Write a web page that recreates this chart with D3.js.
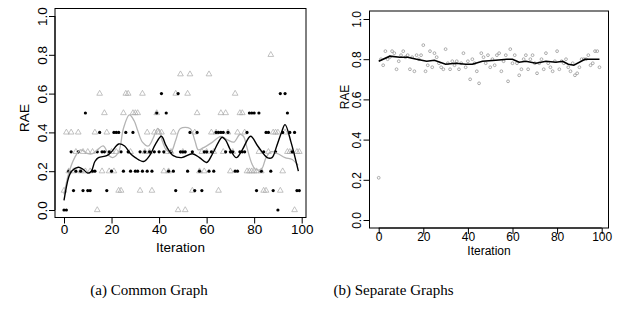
<!DOCTYPE html>
<html><head><meta charset="utf-8">
<script src="https://cdn.jsdelivr.net/npm/d3@7"></script>
<style>body{margin:0;background:#fff}svg{display:block}</style>
</head><body>
<svg id="c" width="623" height="313"></svg>
<script>
// ---------- DATA ----------
const iterations = d3.range(100);
const yTicks = [0, 0.2, 0.4, 0.6, 0.8, 1.0];
const xTicks = [0, 20, 40, 60, 80, 100];
const yTickLabels = ["0.0","0.2","0.4","0.6","0.8","1.0"];
const captions = ["(a) Common Graph", "(b) Separate Graphs"];

// (a) common graph: black dots series
const commonBlack = [0.0,0.0,0.2,0.3,0.1,0.2,0.3,0.2,0.1,0.5,0.1,0.1,0.2,0.2,0.3,0.4,0.3,0.3,0.1,0.3,
  0.2,0.4,0.4,0.4,0.3,0.2,0.4,0.3,0.2,0.4,0.2,0.2,0.3,0.2,0.3,0.2,0.3,0.2,0.3,0.5,
  0.3,0.6,0.3,0.5,0.2,0.3,0.2,0.1,0.6,0.3,0.3,0.3,0.2,0.4,0.3,0.1,0.4,0.2,0.1,0.3,
  0.3,0.2,0.3,0.2,0.4,0.4,0.4,0.4,0.3,0.4,0.3,0.3,0.2,0.2,0.3,0.3,0.3,0.4,0.5,0.5,
  0.5,0.1,0.5,0.2,0.3,0.4,0.4,0.2,0.1,0.3,0.0,0.6,0.4,0.6,0.5,0.4,0.3,0.4,0.1,0.1];
// (a) common graph: grey triangles series
const commonGrey = [0.1,0.4,0.2,0.4,0.2,0.3,0.4,0.2,0.3,0.2,0.3,0.2,0.3,0.4,0.0,0.6,0.2,0.5,0.4,0.2,
  0.3,0.2,0.3,0.1,0.1,0.5,0.6,0.6,0.3,0.5,0.5,0.5,0.1,0.6,0.3,0.4,0.3,0.1,0.4,0.5,
  0.4,0.4,0.2,0.3,0.2,0.3,0.4,0.6,0.0,0.7,0.3,0.0,0.6,0.7,0.1,0.4,0.5,0.2,0.3,0.2,
  0.3,0.7,0.4,0.3,0.4,0.1,0.5,0.3,0.5,0.4,0.2,0.3,0.6,0.4,0.5,0.5,0.4,0.2,0.2,0.2,
  0.2,0.2,0.3,0.2,0.1,0.1,0.3,0.8,0.4,0.4,0.4,0.1,0.2,0.4,0.3,0.3,0.3,0.0,0.3,0.3];
// smoothed curves (iteration, RAE)
const blackSmoothX = [0,2,3.2,6,8,10,11.5,13,14.5,18,20,23,25.5,28,30,33.5,36,38.5,41,43,46,49.5,54,57,60,62.5,65,66.5,68,70,72.5,75,78.5,81.5,85.5,87.5,89.5,91.5,93,95.5,98.6];
const blackSmoothY = [0.05,0.17,0.2,0.22,0.21,0.19,0.2,0.25,0.27,0.28,0.3,0.34,0.33,0.29,0.27,0.25,0.28,0.34,0.38,0.33,0.28,0.27,0.29,0.27,0.245,0.29,0.35,0.375,0.36,0.31,0.27,0.31,0.38,0.33,0.27,0.27,0.33,0.4,0.44,0.35,0.2];
const greySmoothX = [0,2,4.5,7,10,12,14,16.5,19,20.5,23,25,27.5,29.5,31,33,35.5,37.5,39.5,41.5,43,45,47,49,53,55,56.5,58.5,62.5,66,69,71.5,74,75.5,77,79,80.5,83,85,87,90,93,96,98.5];
const greySmoothY = [0.08,0.19,0.27,0.31,0.29,0.29,0.31,0.33,0.28,0.27,0.3,0.42,0.49,0.46,0.41,0.35,0.33,0.37,0.42,0.35,0.31,0.3,0.36,0.42,0.42,0.36,0.31,0.32,0.35,0.38,0.36,0.35,0.39,0.38,0.32,0.24,0.21,0.21,0.27,0.3,0.29,0.27,0.26,0.23];

// (b) separate graphs
const separateRAE = [0.21,0.80,0.77,0.84,0.80,0.81,0.84,0.83,0.75,0.79,0.82,0.84,0.81,0.82,0.75,0.81,0.74,0.82,0.80,0.82,
  0.87,0.74,0.77,0.84,0.76,0.83,0.81,0.78,0.76,0.75,0.85,0.78,0.75,0.79,0.77,0.79,0.75,0.78,0.83,0.76,
  0.79,0.70,0.80,0.78,0.74,0.68,0.83,0.81,0.78,0.82,0.76,0.80,0.77,0.82,0.83,0.74,0.79,0.82,0.69,0.85,
  0.78,0.82,0.78,0.72,0.75,0.80,0.82,0.75,0.80,0.82,0.78,0.73,0.78,0.80,0.75,0.83,0.78,0.76,0.74,0.79,
  0.84,0.75,0.79,0.78,0.80,0.76,0.74,0.78,0.72,0.73,0.76,0.80,0.80,0.80,0.82,0.77,0.78,0.84,0.84,0.76];
const separateMeanX = [0,5,9.5,13,17,21.5,25,30,34.5,39,42,46.5,52.5,57.5,60,63,66,70.5,75,79.5,82.5,85,87.5,92.5,99];
const separateMeanY = [0.79,0.815,0.81,0.81,0.8,0.79,0.795,0.775,0.78,0.775,0.775,0.79,0.795,0.8,0.8,0.785,0.79,0.78,0.79,0.785,0.79,0.775,0.77,0.8,0.8];

// ---------- DRAW ----------
const svg = d3.select("#c");
const sans = "'Liberation Sans', Arial, sans-serif";

function panel(o) {
  const g = svg.append("g");
  const x = d3.scaleLinear().domain([0, 100]).range(o.xr);
  const y = d3.scaleLinear().domain([0, 1]).range(o.yr);
  g.append("rect").attr("x", o.box[0]).attr("y", o.box[1])
    .attr("width", o.box[2] - o.box[0]).attr("height", o.box[3] - o.box[1])
    .attr("fill", "none").attr("stroke", "#000").attr("stroke-width", 1);
  const ya = g.append("g").attr("transform", `translate(${o.box[0]},0)`)
    .call(d3.axisLeft(y).tickValues(yTicks).tickSize(6).tickSizeOuter(0)
      .tickFormat((d, i) => yTickLabels[i]));
  ya.select(".domain").attr("d", `M0,${y(0)}V${y(1)}`);
  ya.selectAll("text").attr("transform", "rotate(-90)").attr("x", 0).attr("y", -8.5)
    .attr("dy", 0).attr("text-anchor", "middle")
    .style("font-family", sans).style("font-size", o.fs + "px").attr("fill", "#000");
  const xa = g.append("g").attr("transform", `translate(0,${o.box[3]})`)
    .call(d3.axisBottom(x).tickValues(xTicks).tickSize(6).tickSizeOuter(0));
  xa.select(".domain").attr("d", `M${x(0)},0H${x(100)}`);
  xa.selectAll("text").attr("y", o.xly).attr("dy", 0)
    .style("font-family", sans).style("font-size", o.fs + "px").attr("fill", "#000");
  g.append("text").attr("x", (o.box[0] + o.box[2]) / 2).attr("y", o.xty)
    .attr("text-anchor", "middle").style("font-family", sans).style("font-size", o.fs + "px").text("Iteration");
  g.append("text").attr("transform", `translate(${o.ytx},${o.yty}) rotate(-90)`)
    .attr("text-anchor", "middle").style("font-family", sans).style("font-size", o.fs + "px").text("RAE");
  return {g, x, y};
}

// Panel (a)
const A = panel({xr: [64, 301.7], yr: [210, 16], box: [55, 8.5, 306, 217.5], fs: 13.5, xly: 16, xty: 251.5, ytx: 29, yty: 118});
const tri = d3.symbol().type(d3.symbolTriangle).size(14);
A.g.append("g").selectAll("path").data(iterations).join("path")
  .attr("d", tri).attr("transform", i => `translate(${A.x(i)},${A.y(commonGrey[i])})`)
  .attr("fill", "none").attr("stroke", "#a8a8a8").attr("stroke-width", 0.7);
A.g.append("g").selectAll("circle").data(iterations).join("circle")
  .attr("cx", i => A.x(i)).attr("cy", i => A.y(commonBlack[i])).attr("r", 1.6).attr("fill", "#000");
const lineA = (xs, ys) => d3.line().x(i => A.x(xs[i])).y(i => A.y(ys[i])).curve(d3.curveCatmullRom.alpha(0.5))(d3.range(xs.length));
A.g.append("path").attr("d", lineA(greySmoothX, greySmoothY)).attr("fill", "none").attr("stroke", "#b4b4b4").attr("stroke-width", 1.3);
A.g.append("path").attr("d", lineA(blackSmoothX, blackSmoothY)).attr("fill", "none").attr("stroke", "#000").attr("stroke-width", 1.4);

// Panel (b)
const B = panel({xr: [378.7, 601.7], yr: [220, 19], box: [369.5, 11, 608.5, 228], fs: 12, xly: 13, xty: 255, ytx: 349, yty: 97});
B.g.append("g").selectAll("circle").data(iterations).join("circle")
  .attr("cx", i => B.x(i)).attr("cy", i => B.y(separateRAE[i])).attr("r", 1.4)
  .attr("fill", "none").attr("stroke", "#8c8c8c").attr("stroke-width", 0.7);
B.g.append("path").attr("d", d3.line().x(i => B.x(separateMeanX[i])).y(i => B.y(separateMeanY[i]))(d3.range(separateMeanX.length)))
  .attr("fill", "none").attr("stroke", "#000").attr("stroke-width", 1.6);

// captions
svg.selectAll("text.cap").data(captions).join("text").attr("class", "cap")
  .attr("x", (d, i) => [149, 393.5][i]).attr("y", 295).attr("text-anchor", "middle")
  .style("font-family", "'Liberation Serif', 'Times New Roman', serif").style("font-size", "15px").text(d => d);
</script>
</body></html>
